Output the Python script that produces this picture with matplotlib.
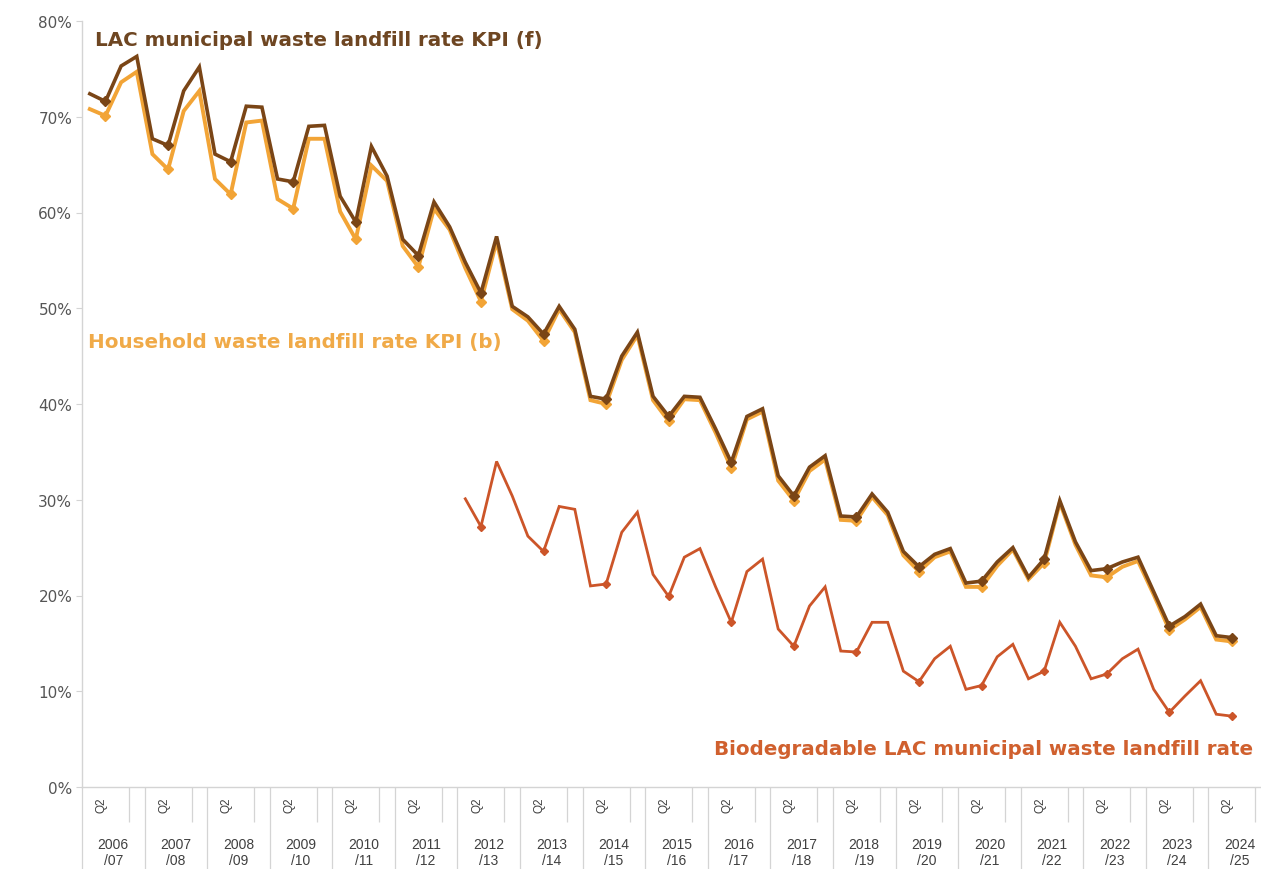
import numpy as np
import matplotlib
matplotlib.use("Agg")
import matplotlib.pyplot as plt
from matplotlib.transforms import blended_transform_factory

# Financial years shown on the category axis (quarterly data, Q1..Q4 per year)
years = ["2006/07", "2007/08", "2008/09", "2009/10", "2010/11", "2011/12",
         "2012/13", "2013/14", "2014/15", "2015/16", "2016/17", "2017/18",
         "2018/19", "2019/20", "2020/21", "2021/22", "2022/23", "2023/24",
         "2024/25"]
quarter_label = "Q2"

# LAC municipal waste landfill rate KPI (f), % per quarter
lac = [72.4, 71.6, 75.3, 76.3,
       67.7, 67.0, 72.7, 75.2,
       66.1, 65.3, 71.1, 71.0,
       63.5, 63.2, 69.0, 69.1,
       61.7, 59.0, 66.9, 63.8,
       57.2, 55.5, 61.1, 58.5,
       54.8, 51.6, 57.5, 50.2,
       49.1, 47.3, 50.2, 47.8,
       40.8, 40.5, 45.0, 47.5,
       40.8, 38.7, 40.8, 40.7,
       37.4, 33.9, 38.7, 39.5,
       32.5, 30.4, 33.4, 34.6,
       28.3, 28.2, 30.6, 28.7,
       24.6, 23.0, 24.3, 24.9,
       21.3, 21.5, 23.5, 25.0,
       21.9, 23.8, 29.9, 25.6,
       22.6, 22.8, 23.5, 24.0,
       20.4, 16.8, 17.8, 19.1,
       15.8, 15.6]

# Household waste landfill rate KPI (b), % per quarter
household = [70.8, 70.1, 73.6, 74.7,
             66.1, 64.5, 70.6, 72.7,
             63.5, 61.9, 69.4, 69.6,
             61.4, 60.4, 67.7, 67.7,
             60.1, 57.2, 64.9, 63.3,
             56.5, 54.3, 60.4, 58.2,
             54.2, 50.7, 57.0, 49.9,
             48.7, 46.6, 49.9, 47.5,
             40.4, 40.0, 44.6, 47.2,
             40.4, 38.2, 40.5, 40.4,
             37.0, 33.3, 38.4, 39.2,
             32.0, 29.9, 33.0, 34.2,
             27.9, 27.8, 30.3, 28.4,
             24.2, 22.5, 24.0, 24.6,
             20.9, 20.9, 23.1, 24.8,
             21.7, 23.4, 29.7, 25.3,
             22.1, 21.9, 23.0, 23.6,
             20.1, 16.4, 17.5, 18.8,
             15.4, 15.2]

# Biodegradable LAC municipal waste landfill rate, % per quarter from 2012/13 Q1
bio_first_year = "2012/13"
bio = [30.1, 27.2, 34.0, 30.4,
       26.2, 24.6, 29.3, 29.0,
       21.0, 21.2, 26.6, 28.7,
       22.2, 19.9, 24.0, 24.9,
       20.9, 17.2, 22.5, 23.8,
       16.5, 14.7, 18.9, 20.9,
       14.2, 14.1, 17.2, 17.2,
       12.1, 11.0, 13.4, 14.7,
       10.2, 10.6, 13.6, 14.9,
       11.3, 12.1, 17.2, 14.7,
       11.3, 11.8, 13.4, 14.4,
       10.2, 7.8, 9.5, 11.1,
       7.6, 7.4]

C_LAC = "#7a4516"
C_HH = "#f2a436"
C_BIO = "#cc5529"
GRID = "#d4d4d4"

W, H = 1261, 870
fig = plt.figure(figsize=(W / 100, H / 100), dpi=100)
ax = fig.add_axes([82 / W, 1 - 788 / H, (1271 - 82) / W, (788 - 22) / H])

n = len(lac)
x = np.arange(n)
bio_start = years.index(bio_first_year) * 4
xb = np.arange(bio_start, bio_start + len(bio))

ax.plot(x, household, color=C_HH, lw=2.8, solid_joinstyle="miter",
        marker="D", markevery=list(range(1, n, 4)), ms=5, zorder=2)
ax.plot(x, lac, color=C_LAC, lw=2.6, solid_joinstyle="miter",
        marker="D", markevery=list(range(1, n, 4)), ms=5, zorder=3)
ax.plot(xb, bio, color=C_BIO, lw=2.0, solid_joinstyle="miter",
        marker="D", markevery=list(range(1, len(bio), 4)), ms=4.5, zorder=3)

ax.set_xlim(-0.5, len(years) * 4 - 0.5)
ax.set_ylim(0, 80)
ax.set_yticks(np.arange(0, 81, 10))
ax.set_yticklabels([f"{v}%" for v in range(0, 81, 10)])
ax.tick_params(axis="y", direction="out", length=4, color=GRID,
               labelcolor="#555555", labelsize=11, pad=3)

for s in ("top", "right"):
    ax.spines[s].set_visible(False)
for s in ("left", "bottom"):
    ax.spines[s].set_color(GRID)
    ax.spines[s].set_linewidth(1.0)

# Category axis: long separators between years, short ones inside each year
ax.set_xticks(np.arange(len(years) + 1) * 4 - 0.5)
ax.set_xticks(np.arange(len(years)) * 4 + 2.5, minor=True)
ax.tick_params(axis="x", which="major", direction="out", length=62,
               color=GRID, width=0.9, labelbottom=False)
ax.tick_params(axis="x", which="minor", direction="out", length=25,
               color=GRID, width=0.9, labelbottom=False)

tr = blended_transform_factory(ax.transData, fig.transFigure)
for k, yr in enumerate(years):
    ax.text(4 * k + 0.75, 1 - 805 / H, quarter_label, transform=tr,
            rotation=90, ha="center", va="center", fontsize=8.5,
            color="#404040", family="Liberation Sans", clip_on=False)
    top, bottom = yr.split("/")
    ax.text(4 * k + 1.5, 1 - 838 / H, top + "\n/" + bottom, transform=tr,
            ha="center", va="top", fontsize=10, linespacing=1.15,
            color="#404040", family="Liberation Sans", clip_on=False)

# Series labels
fig.text(95 / W, 1 - 40 / H, "LAC municipal waste landfill rate KPI (f)",
         ha="left", va="center", fontsize=14.3, fontweight="bold",
         color="#6e4622", family="DejaVu Sans")
fig.text(88 / W, 1 - 343 / H, "Household waste landfill rate KPI (b)",
         ha="left", va="center", fontsize=14.3, fontweight="bold",
         color="#f0aa48", family="DejaVu Sans")
fig.text(1253 / W, 1 - 750 / H, "Biodegradable LAC municipal waste landfill rate",
         ha="right", va="center", fontsize=14.3, fontweight="bold",
         color="#d0602e", family="DejaVu Sans")

fig.savefig("out.png", dpi=100)
